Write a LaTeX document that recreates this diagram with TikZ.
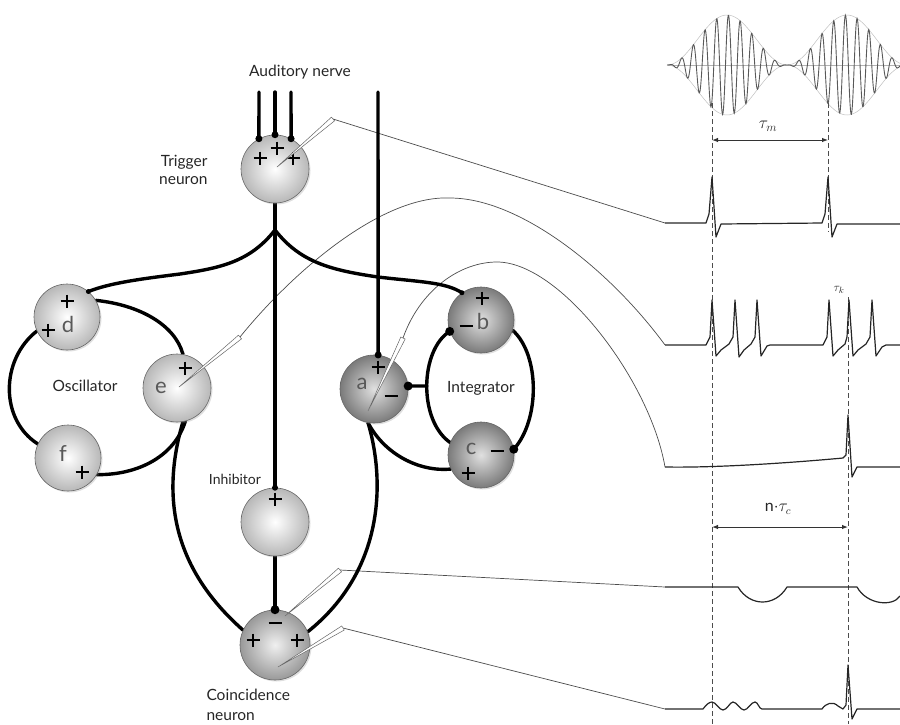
\documentclass[tikz,border=0pt]{standalone}
\usepackage{fontspec}
\setmainfont{Lato}
\usetikzlibrary{calc,arrows.meta,backgrounds,shadows}
\begin{document}
\begin{tikzpicture}[x=1pt,y=-1pt,
  neuron/.style={circle,draw=black!60,line width=0.6pt,inner sep=0pt,minimum size=#1,
    drop shadow={opacity=0.25,shadow xshift=1.5pt,shadow yshift=-1.5pt}},
  light/.style={shading=radial,inner color=white,outer color=black!28},
  midn/.style={shading=radial,inner color=black!6,outer color=black!40},
  dark/.style={shading=radial,inner color=black!12,outer color=black!52},
  axon/.style={line width=3.4pt,black,line cap=round},
  knob/.style={circle,fill=black,inner sep=0pt,minimum size=#1},
  wire/.style={line width=0.7pt,black!70},
  trace/.style={line width=1.2pt,black!85,line join=round},
  dashline/.style={line width=0.9pt,black!70,dash pattern=on 5pt off 3pt},
  lab/.style={font=\fontsize{15.5}{18}\selectfont,text=black!85},
  letter/.style={font=\fontsize{22}{22}\selectfont,text=black!65},
  sign/.style={line width=2.8pt,black},
  pplus/.pic={\draw[sign] (-6.5,0)--(6.5,0) (0,-6.5)--(0,6.5);},
  pminus/.pic={\draw[sign] (-6.5,0)--(6.5,0);},
]
\useasboundingbox (0,0) rectangle (900,724);
\newcommand\electrode[2]{\filldraw[fill=white,draw=black!60,line width=0.5pt] (#1) -- ($(#2)!2.4pt!90:(#1)$) -- ($(#2)!2.4pt!-90:(#1)$) -- cycle;}

% ---------- neurons ----------
\node[neuron=68pt,light] (trig) at (275,169) {};
\node[neuron=66pt,light] (d) at (67,317) {};
\node[neuron=68pt,light] (e) at (177,388) {};
\node[neuron=66pt,light] (f) at (68,458) {};
\node[neuron=68pt,dark] (a) at (374,389) {};
\node[neuron=66pt,dark] (b) at (481,320) {};
\node[neuron=66pt,dark] (c) at (481,455) {};
\node[neuron=68pt,light] (inh) at (275,522) {};
\node[neuron=70pt,midn] (coin) at (275,645) {};

% ---------- coordinates ----------
\coordinate (n1) at (259,92);
\coordinate (n2) at (275,92);
\coordinate (n3) at (291,92);
\coordinate (n4) at (378,92);
\coordinate (br) at (275,230);
\coordinate (ringpt) at (427,386);
% electrode tips and ends
\coordinate (tt) at (277,167); \coordinate (te) at (333,119);
\coordinate (et) at (179,387); \coordinate (ee) at (240,337);
\coordinate (at) at (368,411); \coordinate (ae) at (403,338);
\coordinate (c1t) at (285,616); \coordinate (c1e) at (340,570);
\coordinate (c2t) at (278,667); \coordinate (c2e) at (343,628);
% trace starts
\coordinate (s1) at (665,223);
\coordinate (s2) at (665,345);
\coordinate (s3) at (665,467);
\coordinate (s4) at (665,587);
\coordinate (s5) at (665,709);

% ---------- axons and wires (behind neurons) ----------
\begin{pgfonlayer}{background}
\draw[wire] (te) -- (s1);
\draw[wire] (ee) .. controls (290,275) and (380,195) .. (450,198) .. controls (520,198) and (610,270) .. (s2);
\draw[wire] (ae) .. controls (420,290) and (460,262) .. (497,262) .. controls (560,262) and (650,380) .. (s3);
\draw[wire] (c1e) -- (s4);
\draw[wire] (c2e) -- (s5);

\draw[axon] (n1) -- (trig.118);
\draw[axon] (n2) -- (trig.north);
\draw[axon] (n3) -- (trig.62);
\draw[axon] (n4) -- (a.83);
\draw[axon] (trig.south) -- (br) -- (inh.north);
\draw[axon] (br) .. controls (250,262) and (220,268) .. (180,274) .. controls (140,279) and (110,283) .. (d.50);
\draw[axon] (br) .. controls (300,262) and (330,270) .. (378,277) .. controls (420,282) and (445,282) .. (b.125);
% oscillator ring
\draw[axon] (d.30) .. controls (140,305) and (175,325) .. (e.80);
\draw[axon] (d.205) .. controls (0,360) and (0,420) .. (f.155);
\draw[axon] (f.-30) .. controls (140,475) and (175,455) .. (e.-76);
% outputs to coincidence neuron
\draw[axon] (e.-80) .. controls (160,500) and (175,570) .. (coin.155);
\draw[axon] (a.-100) .. controls (385,480) and (385,570) .. (coin.22);
\draw[axon] (a.-100) .. controls (385,455) and (420,472) .. (c.205);
% integrator ring
\draw[axon] (b.200) .. controls (420,350) and (418,420) .. (c.158);
\draw[axon] (b.-18) .. controls (540,355) and (540,420) .. (c.10);
\draw[axon] (a.5) -- (ringpt);
\draw[axon] (inh.south) -- (coin.north);
\end{pgfonlayer}

% ---------- synaptic knobs ----------
\node[knob=7pt] (k1) at (trig.118) {};
\node[knob=7pt] (k2) at (trig.north) {};
\node[knob=7pt] (k3) at (trig.62) {};
\node[knob=7pt] (k4) at (a.83) {};
\node[knob=6pt] (k5) at (inh.north) {};
\node[knob=9pt] (k6) at (coin.north) {};
\node[knob=9pt] (k7) at (a.5) {};
\node[knob=9pt] (k8) at (b.200) {};
\node[knob=9pt] (k9) at (c.10) {};
\node[knob=5pt] (k10) at (d.50) {};
\node[knob=5pt] (k11) at (b.125) {};

% ---------- signs ----------
\pic at (260,158) {pplus};
\pic at (277,148) {pplus};
\pic at (293,158) {pplus};
\pic at (67,301) {pplus};
\pic at (48,330) {pplus};
\pic at (185,368) {pplus};
\pic at (82,472) {pplus};
\pic at (378,367) {pplus};
\pic at (391,396) {pminus};
\pic at (482,298) {pplus};
\pic at (466,326) {pminus};
\pic at (497,451) {pminus};
\pic at (468,473) {pplus};
\pic at (275,499) {pplus};
\pic at (275,623) {pminus};
\pic at (253,640) {pplus};
\pic at (297,640) {pplus};

% ---------- letters ----------
\node[letter] (ld) at (68,324) {d};
\node[letter] (le) at (161,388) {e};
\node[letter] (lf) at (63,453) {f};
\node[letter] (la) at (362,384) {a};
\node[letter] (lb) at (483,321) {b};
\node[letter] (lc) at (471,449) {c};

% ---------- electrodes ----------
\electrode{tt}{te}
\electrode{et}{ee}
\electrode{at}{ae}
\electrode{c1t}{c1e}
\electrode{c2t}{c2e}

% ---------- labels ----------
\node[lab] (tan) at (300,72) {Auditory nerve};
\node[lab,align=right,anchor=east] (ttrig) at (211,170) {Trigger\\neuron};
\node[lab] (tosc) at (85,386) {Oscillator};
\node[lab] (tint) at (481,388) {Integrator};
\node[lab,font=\fontsize{14}{16}\selectfont] (tinh) at (235,479) {Inhibitor};
\node[lab,align=left,anchor=west] (tcoin) at (203,705) {Coincidence\\[2pt]neuron};

% ---------- AM stimulus ----------
\draw[black!30,line width=0.4pt] (668,65) -- (900,65);
\draw[black!25,line width=0.5pt] plot[domain=667:900,samples=120] (\x,{65-25*(1-cos(3*(\x-667)))});
\draw[black!25,line width=0.5pt] plot[domain=667:900,samples=120] (\x,{65+25*(1-cos(3*(\x-667)))});
\draw[black!65,line width=0.9pt] plot[domain=667:900,samples=500] (\x,{65-25*(1-cos(3*(\x-667)))*sin(30.769*(\x-667))});

% ---------- dashed markers ----------
\coordinate (dA1) at (712,103); \coordinate (dA2) at (712,724);
\coordinate (dB1) at (828,103); \coordinate (dB2) at (828,232);
\coordinate (dC1) at (848,297); \coordinate (dC2) at (848,724);
\draw[dashline] (dA1) -- (dA2);
\draw[dashline] (dB1) -- (dB2);
\draw[dashline] (dC1) -- (dC2);

% ---------- intervals ----------
\coordinate (mL) at (712,140); \coordinate (mR) at (828,140);
\draw[{Latex[length=6pt,width=4.5pt]}-{Latex[length=6pt,width=4.5pt]},line width=1pt,black!80] (mL) -- (mR);
\node[font=\fontsize{17}{17}\selectfont,text=black!85] (ltm) at (768,126) {$\tau_m$};
\coordinate (cL) at (712,527); \coordinate (cR) at (848,527);
\draw[{Latex[length=6pt,width=4.5pt]}-{Latex[length=6pt,width=4.5pt]},line width=1pt,black!80] (cL) -- (cR);
\node[font=\fontsize{16}{16}\selectfont,text=black!85] (ltc) at (778,509) {n$\cdot\tau_c$};
\node[font=\fontsize{13}{13}\selectfont,text=black!85] (ltk) at (839,290) {$\tau_k$};

% ---------- traces ----------
\draw[trace] (s1) -- (706,223) -- (709,214) -- (712,177) -- (716,237) -- (721,224) -- (822,223) -- (825,214) -- (828,177) -- (832,237) -- (837,224) -- (900,224);
\draw[trace] (s2) -- (706,345) -- (710,337) -- (712,300) -- (716,356) -- (721,350) -- (729,344) -- (733,337) -- (735,300) -- (739,357) -- (744,350) -- (751,344) -- (755,337) -- (757,300) -- (761,356) -- (767,346) -- (770,345) -- (823,345) -- (827,337) -- (829,300) -- (833,356) -- (838,350) -- (845,344) -- (847,337) -- (849,300) -- (853,356) -- (858,350) -- (866,344) -- (870,337) -- (872,300) -- (876,356) -- (882,347) -- (886,345) -- (900,345);
\draw[trace] (s3) .. controls (720,468) and (800,462) .. (843,458) -- (846,455) -- (848,415) -- (852,477) -- (857,467) -- (900,467);
\draw[trace] (s4) -- (738,587) .. controls (750,607) and (775,607) .. (787,587) -- (857,587) .. controls (867,605) and (893,607) .. (900,596);
\draw[trace] (s5) -- (703,709) .. controls (706,705) and (709,702) .. (712,702) .. controls (716,702) and (719,710) .. (723,710) .. controls (727,710) and (730,702) .. (733,702) .. controls (737,702) and (740,710) .. (744,710) .. controls (748,710) and (751,702) .. (755,702) .. controls (758,702) and (759,709) .. (762,709) -- (822,709) .. controls (826,703) and (833,701) .. (838,706) -- (843,709) -- (846,705) -- (848,665) -- (852,719) -- (857,709) -- (900,709);
\end{tikzpicture}
\end{document}
